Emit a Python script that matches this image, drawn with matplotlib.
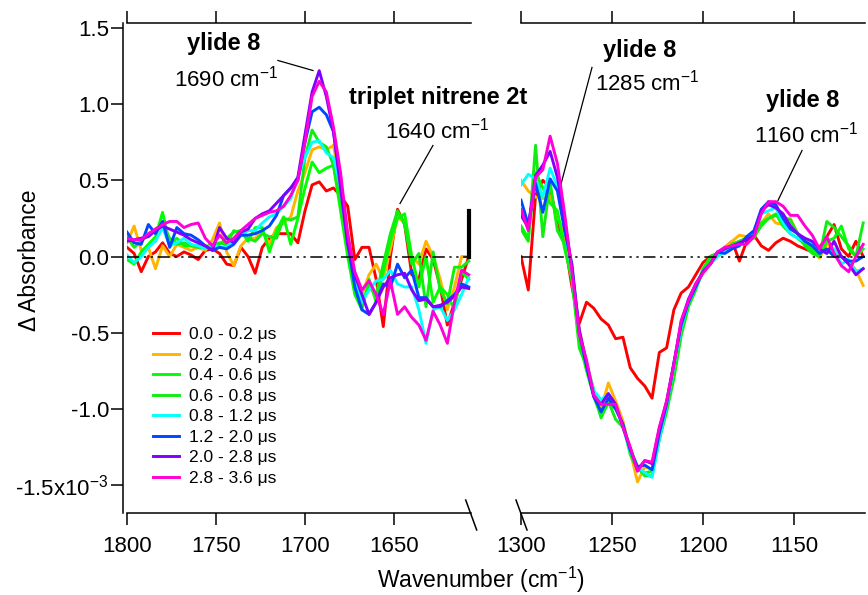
import matplotlib
matplotlib.use('Agg')
import matplotlib.pyplot as plt
import numpy as np
from matplotlib.lines import Line2D

plt.rcParams['font.family'] = ['Liberation Sans', 'DejaVu Sans']
plt.rcParams['mathtext.fontset'] = 'custom'
plt.rcParams['mathtext.rm'] = 'Liberation Sans'
plt.rcParams['mathtext.it'] = 'Liberation Sans:italic'
plt.rcParams['mathtext.bf'] = 'Liberation Sans:bold'
plt.rcParams['axes.unicode_minus'] = False

# wavenumber grids (cm-1), 4 cm-1 steps
wn_left = np.arange(1800, 1607, -4)
wn_right = np.arange(1300, 1111, -4)

labels = ['0.0 - 0.2 μs', '0.2 - 0.4 μs', '0.4 - 0.6 μs', '0.6 - 0.8 μs',
          '0.8 - 1.2 μs', '1.2 - 2.0 μs', '2.0 - 2.8 μs', '2.8 - 3.6 μs']
colors = ['#ff0000', '#ffb400', '#00ff00', '#10ee10',
          '#00ffff', '#0048ff', '#8000ff', '#ff00d8']

# delta absorbance (x1e-3), 1800 -> 1608 cm-1
red_left = [0.06, 0.02, -0.10, 0.00, 0.03, 0.09, 0.02, 0.00, 0.03, 0.01, -0.02, 0.04, 0.05, 0.02, -0.05, -0.06, 0.06, 0.00, -0.11, 0.06, 0.12, 0.15, 0.15, 0.15, 0.09,
            0.30, 0.47, 0.49, 0.43, 0.45, 0.40, 0.33, -0.02, 0.06,
            0.06, -0.15, -0.46, 0.00, 0.31, 0.21, -0.12, -0.15, 0.05, -0.02, -0.20, -0.45, -0.30, -0.15, 0.00]
orange_left = [0.09, 0.20, 0.04, 0.06, -0.08, 0.07, 0.00, 0.08, 0.06, 0.04, 0.06, 0.04, 0.11, 0.22, 0.03, -0.06, 0.07, 0.12, 0.12, 0.17, 0.08, 0.19, 0.22, 0.26, 0.43,
               0.55, 0.70, 0.72, 0.70, 0.73, 0.45, 0.15, -0.15, -0.25,
               -0.12, -0.05, -0.15, 0.05, 0.26, 0.22, 0.00, -0.05, 0.10, 0.00, -0.15, -0.35, -0.20, 0.00, 0.00]
green1_left = [-0.02, -0.05, 0.03, 0.08, 0.13, 0.29, 0.08, 0.12, 0.07, 0.07, 0.07, 0.07, 0.06, 0.08, 0.12, 0.16, 0.17, 0.10, 0.19, 0.19, 0.03, 0.17, 0.26, 0.08, 0.25,
               0.45, 0.62, 0.55, 0.58, 0.60, 0.30, 0.00, -0.25, -0.35,
               -0.15, -0.30, -0.10, 0.10, 0.25, 0.28, 0.00, -0.20, 0.00, -0.30, -0.20, -0.25, -0.35, -0.10, -0.15]
green2_left = [0.13, 0.06, 0.10, 0.14, 0.18, 0.21, 0.12, 0.08, 0.09, 0.07, 0.06, 0.06, 0.08, 0.09, 0.08, 0.17, 0.15, 0.12, 0.10, 0.15, 0.13, 0.12, 0.25, 0.24, 0.26,
               0.65, 0.83, 0.75, 0.72, 0.60, 0.35, 0.05, -0.20, -0.30,
               -0.20, -0.25, -0.05, 0.15, 0.30, 0.21, -0.05, 0.02, -0.33, 0.03, -0.22, -0.31, -0.07, -0.07, -0.03]
cyan_left = [0.01, -0.04, 0.00, 0.06, 0.10, 0.19, 0.07, 0.09, 0.12, 0.08, 0.07, 0.05, 0.08, 0.06, 0.06, 0.11, 0.14, 0.17, 0.17, 0.22, 0.26, 0.28, 0.33, 0.38, 0.52,
             0.65, 0.75, 0.76, 0.68, 0.65, 0.45, 0.10, -0.15, -0.30,
             -0.22, -0.16, -0.15, -0.09, -0.18, -0.20, -0.20, -0.35, -0.57, -0.35, -0.33, -0.42, -0.35, -0.25, -0.14]
blue_left = [0.16, 0.09, 0.08, 0.21, 0.15, 0.23, 0.06, 0.19, 0.15, 0.14, 0.11, 0.07, 0.04, 0.06, 0.05, 0.08, 0.14, 0.14, 0.15, 0.17, 0.20, 0.27, 0.40, 0.45, 0.50,
             0.75, 0.95, 0.98, 0.93, 0.82, 0.50, 0.10, -0.20, -0.35,
             -0.38, -0.30, -0.18, -0.20, -0.05, -0.14, -0.09, -0.27, -0.27, -0.33, -0.33, -0.29, -0.25, -0.18, -0.20]
purple_left = [0.10, 0.11, 0.12, 0.13, 0.17, 0.20, 0.18, 0.16, 0.14, 0.11, 0.09, 0.07, 0.04, 0.19, 0.12, 0.09, 0.16, 0.18, 0.25, 0.28, 0.30, 0.35, 0.40, 0.45, 0.52,
               0.80, 1.08, 1.22, 1.05, 0.82, 0.45, 0.08, -0.12, -0.25,
               -0.38, -0.30, -0.20, -0.14, -0.12, -0.11, -0.22, -0.29, -0.28, -0.33, -0.32, -0.30, -0.26, -0.20, -0.21]
magenta_left = [0.12, 0.11, 0.11, 0.15, 0.18, 0.21, 0.23, 0.23, 0.19, 0.21, 0.22, 0.12, 0.07, 0.14, 0.09, 0.12, 0.17, 0.21, 0.25, 0.27, 0.29, 0.30, 0.33, 0.40, 0.50,
                0.75, 1.05, 1.15, 1.08, 0.85, 0.55, 0.15, -0.10, -0.22,
                -0.16, -0.25, -0.38, -0.16, -0.38, -0.33, -0.40, -0.45, -0.55, -0.36, -0.45, -0.57, -0.30, -0.09, -0.12]

# 1300 -> 1112 cm-1
red_right = [0.00, -0.22, 0.40, 0.50, 0.45, 0.22, 0.10, -0.20, -0.44, -0.30, -0.34, -0.41, -0.45, -0.54, -0.53, -0.73, -0.80, -0.85, -0.93, -0.63, -0.60, -0.35, -0.24, -0.20, -0.12,
             -0.04, 0.00, 0.02, 0.06, 0.10, -0.03, 0.10, 0.14, 0.07, 0.04, 0.09, 0.12, 0.10, 0.07, 0.05, 0.03, 0.06, 0.13, 0.21, 0.05, 0.00, 0.10, 0.00]
orange_right = [0.50, 0.43, 0.39, 0.38, 0.40, 0.26, 0.15, -0.12, -0.48, -0.70, -0.88, -1.00, -0.83, -0.95, -1.08, -1.28, -1.48, -1.38, -1.40, -1.20, -1.00, -0.75, -0.48, -0.30, -0.20,
                -0.10, -0.04, 0.02, 0.06, 0.10, 0.14, 0.13, 0.15, 0.22, 0.28, 0.22, 0.21, 0.25, 0.15, 0.10, 0.05, -0.01, 0.08, 0.05, 0.00, -0.03, -0.09, -0.19]
green1_right = [0.20, 0.12, 0.55, 0.45, 0.35, 0.30, 0.05, -0.15, -0.55, -0.75, -0.92, -1.05, -0.96, -1.00, -1.10, -1.30, -1.40, -1.42, -1.41, -1.18, -1.00, -0.78, -0.50, -0.32, -0.20,
                -0.10, -0.03, 0.02, 0.05, 0.08, 0.10, 0.12, 0.12, 0.22, 0.25, 0.28, 0.20, 0.15, 0.12, 0.08, 0.05, 0.00, 0.10, 0.12, 0.20, 0.05, 0.00, 0.05]
green2_right = [0.18, 0.10, 0.73, 0.13, 0.49, 0.17, 0.08, -0.15, -0.60, -0.72, -0.88, -1.06, -0.95, -1.07, -1.12, -1.26, -1.38, -1.44, -1.44, -1.20, -1.02, -0.80, -0.52, -0.33, -0.22,
                -0.08, 0.00, 0.02, 0.04, 0.08, 0.10, 0.12, 0.13, 0.20, 0.25, 0.27, 0.26, 0.24, 0.15, 0.07, 0.02, 0.00, 0.23, 0.19, 0.13, 0.07, 0.00, 0.22]
cyan_right = [0.47, 0.54, 0.51, 0.39, 0.58, 0.46, 0.19, -0.10, -0.50, -0.70, -0.88, -0.94, -0.90, -0.99, -1.12, -1.28, -1.38, -1.42, -1.45, -1.20, -0.98, -0.72, -0.47, -0.30, -0.20,
              -0.10, -0.05, 0.00, 0.03, 0.06, 0.08, 0.12, 0.15, 0.28, 0.30, 0.32, 0.22, 0.15, 0.12, 0.10, 0.08, 0.05, 0.02, 0.05, -0.05, -0.02, -0.10, -0.08]
blue_right = [0.37, 0.21, 0.48, 0.29, 0.51, 0.43, 0.17, -0.05, -0.50, -0.72, -0.92, -1.02, -0.93, -1.00, -1.10, -1.27, -1.38, -1.37, -1.40, -1.16, -0.97, -0.70, -0.45, -0.30, -0.20,
              -0.10, -0.05, 0.03, 0.02, 0.05, 0.07, 0.13, 0.17, 0.31, 0.36, 0.34, 0.25, 0.18, 0.15, 0.10, 0.07, 0.02, 0.05, 0.00, 0.00, -0.03, -0.03, 0.00]
purple_right = [0.27, 0.19, 0.53, 0.60, 0.69, 0.52, 0.24, -0.08, -0.48, -0.70, -0.92, -0.97, -0.90, -0.97, -1.12, -1.26, -1.40, -1.34, -1.36, -1.13, -0.95, -0.70, -0.43, -0.28, -0.18,
                -0.10, -0.05, 0.03, 0.05, 0.07, 0.09, 0.11, 0.14, 0.30, 0.34, 0.32, 0.28, 0.20, 0.15, 0.12, 0.10, 0.05, 0.02, 0.10, 0.00, -0.05, -0.12, -0.08]
magenta_right = [0.31, 0.17, 0.52, 0.57, 0.79, 0.61, 0.28, -0.10, -0.51, -0.68, -0.91, -0.97, -0.97, -0.97, -1.12, -1.25, -1.41, -1.34, -1.35, -1.12, -0.95, -0.71, -0.42, -0.29, -0.18,
                 -0.11, -0.05, 0.03, 0.06, 0.07, 0.08, 0.08, 0.13, 0.28, 0.36, 0.36, 0.33, 0.27, 0.27, 0.20, 0.14, 0.05, 0.13, 0.02, -0.06, -0.10, 0.00, 0.08]

left_series = [red_left, orange_left, green1_left, green2_left, cyan_left, blue_left, purple_left, magenta_left]
right_series = [red_right, orange_right, green1_right, green2_right, cyan_right, blue_right, purple_right, magenta_right]

# noise scale bar at the edge of the left panel
bar_x = 1608
bar_top = 0.30

W, H = 868, 595
fig = plt.figure(figsize=(W / 100, H / 100), dpi=100)
axL = fig.add_axes([127 / W, 82 / H, 343.5 / W, 490 / H])
axR = fig.add_axes([521 / W, 82 / H, 344 / W, 490 / H])
# transparent panels so the nitrene label can run across the gap
axL.patch.set_visible(False)
axR.patch.set_visible(False)

handles = []
for k in range(8):
    h, = axL.plot(wn_left, left_series[k], color=colors[k], lw=2.1, zorder=2 + k)
    axR.plot(wn_right, right_series[k], color=colors[k], lw=2.1, zorder=2 + k)
    handles.append(h)

for ax in (axL, axR):
    ax.axhline(0, color='k', lw=1.1, dashes=[8, 3, 1.5, 3, 1.5, 3], zorder=20)
    ax.set_ylim(-1.684, 1.533)
    ax.spines['right'].set_visible(False)
    for s in ('top', 'bottom', 'left'):
        ax.spines[s].set_linewidth(1.1)
    ax.tick_params(axis='x', direction='out', length=8.6, width=1.1, top=True,
                   labeltop=False, labelsize=16, pad=8)

axL.set_xlim(1800, 1607)
axR.set_xlim(1300, 1111)
axL.set_xticks([1800, 1750, 1700, 1650])
axR.set_xticks([1300, 1250, 1200, 1150])

axL.spines['left'].set_position(('outward', 3))
axL.set_yticks([-1.5, -1.0, -0.5, 0.0, 0.5, 1.0, 1.5])
axL.set_yticklabels(['-1.5x10$^{-3}$', '-1.0', '-0.5', '0.0', '0.5', '1.0', '1.5'])
axL.tick_params(axis='y', direction='out', length=9, width=1.1, labelsize=16, pad=1)
axR.spines['left'].set_visible(False)
axR.tick_params(axis='y', left=False, labelleft=False)

axL.plot([bar_x, bar_x], [0, bar_top], color='k', lw=3, zorder=21, clip_on=False)

# axis break marks
for x0 in (465.7, 516.0):
    fig.add_artist(Line2D([x0 / W, (x0 + 11) / W], [1 - 500 / H, 1 - 530 / H], color='k', lw=1.1))

# annotations
bold = dict(fontsize=17, fontweight='bold', ha='center', va='center')
norm = dict(fontsize=16, ha='center', va='center')
axL.text(1745.5, 1.40, 'ylide 8', **bold)
axL.text(1744.5, 1.17, '1690 cm$^{-1}$', **norm)
axL.plot([1715.2, 1695.5], [1.287, 1.221], color='k', lw=0.9, clip_on=False)
axL.text(1625.3, 1.044, 'triplet nitrene 2t', clip_on=False, zorder=30, **bold)
axL.text(1625.5, 0.83, '1640 cm$^{-1}$', **norm)
axL.plot([1628.1, 1646.6], [0.729, 0.348], color='k', lw=0.9, clip_on=False)

axR.text(1234.6, 1.353, 'ylide 8', **bold)
axR.text(1230.5, 1.14, '1285 cm$^{-1}$', **norm)
axR.plot([1261.0, 1279.7], [1.241, 0.40], color='k', lw=0.9)
axR.text(1145.0, 1.024, 'ylide 8', **bold)
axR.text(1143.5, 0.80, '1160 cm$^{-1}$', **norm)
axR.plot([1145.6, 1158.8], [0.696, 0.368], color='k', lw=0.9)

fig.text(481 / W, 1 - 580 / H, 'Wavenumber (cm$^{-1}$)', fontsize=16.5, ha='center', va='center')
fig.text(30 / W, 1 - 260 / H, 'Δ Absorbance', fontsize=16.5, rotation=90, ha='center', va='center')

fig.legend(handles, labels, loc='upper left', bbox_to_anchor=(153 / W, 1 - 327 / H),
           frameon=False, fontsize=12.5, handlelength=1.5, handletextpad=0.6,
           labelspacing=0.31, borderpad=0, borderaxespad=0)

fig.savefig('out.png', dpi=100)
